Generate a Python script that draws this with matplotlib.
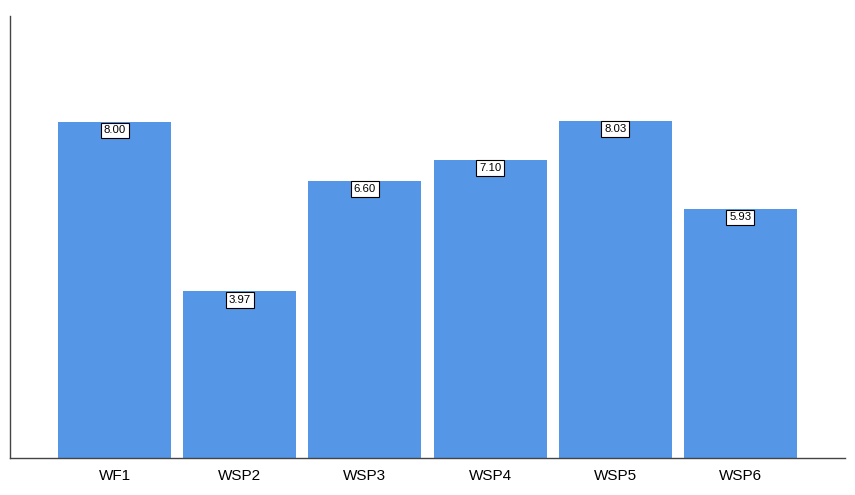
import matplotlib
matplotlib.use("Agg")
import matplotlib.pyplot as plt

categories = ["WF1", "WSP2", "WSP3", "WSP4", "WSP5", "WSP6"]
values = [8.00, 3.97, 6.60, 7.10, 8.03, 5.93]
labels = ["8.00", "3.97", "6.60", "7.10", "8.03", "5.93"]

plt.rcParams['font.family'] = ['Liberation Sans', 'DejaVu Sans']

fig = plt.figure(figsize=(8.55, 4.95), dpi=100)
ax = fig.add_axes([10/855, 37/495, 835/855, 442/495])
x = list(range(len(categories)))
ax.bar(x, values, width=0.904, color="#5596E6", edgecolor="none")
for xi, v, lab in zip(x, values, labels):
    ax.annotate(lab, (xi, v), xytext=(0, -2.6), textcoords="offset points",
                ha="center", va="top", fontsize=8.2, color="black",
                bbox=dict(boxstyle="square,pad=0.25", fc="white", ec="black", lw=0.8))
ax.set_xlim(-0.836, 5.836)
ax.set_ylim(0, 10.52)
ax.set_xticks(x)
ax.set_xticklabels(categories, fontsize=11)
ax.set_yticks([])
ax.tick_params(axis='x', length=0, pad=8)
for s in ["top", "right"]:
    ax.spines[s].set_visible(False)
for s in ["left", "bottom"]:
    ax.spines[s].set_color("#444444")
    ax.spines[s].set_linewidth(1.0)
fig.savefig("out.png", dpi=100)
